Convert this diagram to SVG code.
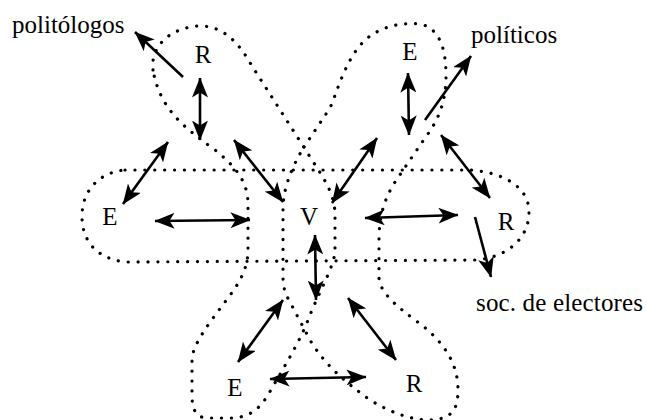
<svg xmlns="http://www.w3.org/2000/svg" width="646" height="420" viewBox="0 0 646 420">
<style>
.dot{fill:none;stroke:#000;stroke-width:3.2;stroke-linecap:round;stroke-dasharray:0.1 9.8}
.ar{fill:none;stroke:#000;stroke-width:2.6}
.both{marker-start:url(#ah);marker-end:url(#ah)}
.one{marker-end:url(#ah)}
text{font-family:"Liberation Serif","Times New Roman",serif;fill:#000}
.n{font-size:25px;text-anchor:middle}
.lb{font-size:25px}
</style>
<defs>
<marker id="ah" viewBox="0 0 20 16" refX="19.5" refY="8" markerWidth="20" markerHeight="16" markerUnits="userSpaceOnUse" orient="auto-start-reverse">
<path d="M0,0 L20,8 L0,16 L5,8 Z" fill="#000"/>
</marker>
</defs>
<rect width="646" height="420" fill="#fff"/>
<g id="loops">
<path class="dot" d="M125,170 L470,170 C500,172 529,185 529,212 C529,240 505,258 475,260 L125,262 C95,258 82,240 82,216 C82,190 100,172 125,170 Z"/>
<path class="dot" d="M153,70 C150,45 172,27 200,26 C225,26 240,45 252,66 L312,160 C325,180 335,195 335,215 L335,250 C335,265 320,290 310,315 C300,342 285,365 268,395 C260,408 250,418 230,418 L205,418 C195,416 192,408 192,395 L192,360 C192,345 210,322 225,302 C238,285 248,270 248,250 L248,205 C248,185 240,170 215,150 C185,128 160,110 153,70 Z"/>
<path class="dot" d="M304,147 L330,108 C338,90 345,60 365,40 C380,27 400,22 420,24 C440,28 446,50 446,75 C446,100 440,118 425,138 L395,182 C385,198 379,215 379,240 L379,278 C380,292 395,305 415,320 C440,338 458,360 458,390 C458,410 452,419 430,420 C410,420 390,412 370,400 C345,382 325,365 310,340 L290,302 C284,292 283,285 283,275 L283,210 C283,190 290,170 304,147 Z"/>
</g>
<g id="connectors">
<line class="ar one" x1="183" y1="77" x2="135" y2="32"/>
<line class="ar both" x1="200" y1="78" x2="200" y2="140"/>
<line class="ar both" x1="168" y1="142" x2="123" y2="204"/>
<line class="ar both" x1="234" y1="140" x2="283" y2="202"/>
<line class="ar both" x1="155" y1="221" x2="250" y2="220"/>
<line class="ar both" x1="408" y1="73" x2="409" y2="135"/>
<line class="ar one" x1="425" y1="120" x2="471" y2="56"/>
<line class="ar both" x1="332" y1="203" x2="377" y2="138"/>
<line class="ar both" x1="441" y1="135" x2="490" y2="198"/>
<line class="ar both" x1="365" y1="218" x2="458" y2="215"/>
<line class="ar one" x1="475" y1="217" x2="491" y2="277"/>
<line class="ar both" x1="315" y1="235" x2="316" y2="300"/>
<line class="ar both" x1="283" y1="300" x2="238" y2="362"/>
<line class="ar both" x1="348" y1="298" x2="396" y2="360"/>
<line class="ar both" x1="270" y1="379" x2="366" y2="377"/>
</g>
<g id="node-R-topleft"><text class="n" x="203" y="63">R</text></g>
<g id="node-E-topright"><text class="n" x="410" y="60">E</text></g>
<g id="node-E-left"><text class="n" x="110" y="225">E</text></g>
<g id="node-V"><text class="n" x="309" y="225">V</text></g>
<g id="node-R-right"><text class="n" x="506" y="230">R</text></g>
<g id="node-E-bottomleft"><text class="n" x="235" y="396">E</text></g>
<g id="node-R-bottomright"><text class="n" x="414" y="392">R</text></g>
<g id="label-politologos"><text class="lb" x="12" y="33">politólogos</text></g>
<g id="label-politicos"><text class="lb" x="471" y="43">políticos</text></g>
<g id="label-soc"><text class="lb" x="476" y="311" textLength="167" lengthAdjust="spacing">soc. de electores</text></g>
</svg>
